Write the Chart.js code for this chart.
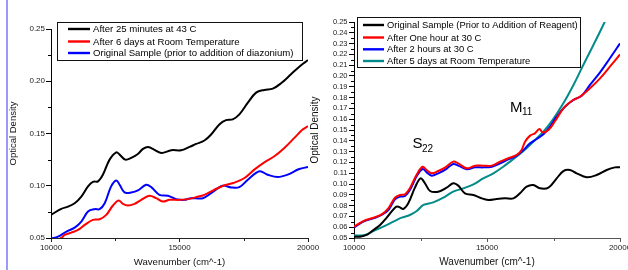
<!DOCTYPE html>
<html><head><meta charset="utf-8">
<script src="https://cdn.jsdelivr.net/npm/chart.js@4"></script>
<style>
html,body{margin:0;padding:0;background:#fff;overflow:hidden;}
#wrap{position:relative;width:628px;height:270px;overflow:hidden;background:#fff;}
#wrap canvas{position:absolute;left:0;top:0;}
#edge{position:absolute;left:6px;top:0;width:2px;height:270px;background:#9a9afc;}
</style></head><body>
<div id="wrap"><div id="edge"></div>
<canvas id="c1" width="660" height="270"></canvas>
<canvas id="c2" width="660" height="270"></canvas>
</div>
<script>
// ---------- LEFT CHART DATA ----------
const leftLabels = ['After 25 minutes at 43 C','After 6 days at Room Temperature','Original Sample (prior to addition of diazonium)'];
const leftBlackX = [10000,10400,10660,10920,11180,11440,11630,11830,12020,12280,12540,12670,12890,13120,13380,13580,13770,13960,14290,14680,15060,15390,15650,15970,16230,16550,16810,17070,17330,17660,17980,18300,18630,18950,19340,19730,20000];
const leftBlackY = [0.0721,0.0779,0.0800,0.0833,0.0897,0.0994,0.1038,0.1042,0.1106,0.1250,0.1320,0.1298,0.1250,0.1266,0.1304,0.1353,0.1372,0.1353,0.1314,0.1340,0.1340,0.1372,0.1400,0.1433,0.1490,0.1587,0.1628,0.1635,0.1683,0.1795,0.1891,0.1917,0.1929,0.1980,0.2067,0.2154,0.2202];
const leftRedX = [10000,10400,10530,10790,11050,11310,11630,11890,12150,12410,12630,12800,12990,13250,13510,13830,14090,14350,14610,15000,15320,15650,15970,16360,16750,17140,17530,17910,18300,18690,19080,19470,19790,20000];
const leftRedY = [0.0470,0.0500,0.0529,0.0551,0.0577,0.0625,0.0673,0.0679,0.0721,0.0811,0.0859,0.0827,0.0811,0.0827,0.0865,0.0904,0.0881,0.0849,0.0865,0.0865,0.0872,0.0891,0.0913,0.0962,0.1005,0.1030,0.1074,0.1154,0.1224,0.1282,0.1362,0.1458,0.1538,0.1570];
const leftBlueX = [10000,10270,10600,10920,11180,11440,11700,11890,12090,12340,12540,12670,12860,13120,13380,13700,13900,14220,14550,14870,15190,15450,15910,16230,16680,17010,17330,17660,18110,18430,18820,19210,19660,20000];
const leftBlueY = [0.0495,0.0513,0.0561,0.0599,0.0657,0.0753,0.0776,0.0776,0.0833,0.0994,0.1051,0.1010,0.0936,0.0936,0.0955,0.1010,0.0987,0.0913,0.0904,0.0872,0.0865,0.0881,0.0881,0.0929,0.1000,0.0984,0.0987,0.1058,0.1138,0.1106,0.1083,0.1106,0.1160,0.1179];
const leftXTicks = [10000,15000,20000];
const leftXMinor = [12500,17500];
const leftYTicks = [0.05,0.10,0.15,0.20,0.25];
const leftYMinor = [0.075,0.125,0.175,0.225];

// ---------- RIGHT CHART DATA ----------
const rightLabels = ['Original Sample (Prior to Addition of Reagent)','After One hour at 30 C','After 2 hours at 30 C','After 5 days at Room Temperature'];
const rightBlackX = [10000,10225,10475,10730,10980,11230,11540,11670,11855,12040,12290,12500,12670,12860,13170,13480,13730,13920,14170,14490,14740,15050,15360,15680,15990,16240,16490,16740,16990,17310,17620,17870,18120,18370,18750,19120,19500,19810,20000];
const rightBlackY = [0.0512,0.0512,0.0528,0.0574,0.0620,0.0688,0.0781,0.0790,0.0769,0.0821,0.0966,0.1052,0.1006,0.0935,0.0929,0.0966,0.1006,0.0985,0.0914,0.0898,0.0873,0.0852,0.0861,0.0867,0.0867,0.0914,0.0975,0.0991,0.0960,0.0966,0.1052,0.1120,0.1130,0.1099,0.1062,0.1083,0.1130,0.1154,0.1154];
const rightRedX = [10000,10350,10730,11040,11290,11540,11730,11920,12100,12360,12580,12730,12920,13170,13420,13730,13920,14240,14550,14860,15180,15490,15800,16120,16300,16430,16620,16800,16970,17090,17310,17560,17870,18180,18500,18870,19250,19620,20000];
const rightRedY = [0.0605,0.0657,0.0688,0.0719,0.0775,0.0873,0.0898,0.0904,0.0960,0.1089,0.1160,0.1130,0.1099,0.1120,0.1151,0.1207,0.1191,0.1145,0.1170,0.1170,0.1170,0.1207,0.1238,0.1269,0.1315,0.1392,0.1448,0.1469,0.1509,0.1478,0.1500,0.1583,0.1700,0.1769,0.1809,0.1886,0.1978,0.2086,0.2200];
const rightBlueX = [10000,10350,10730,11040,11290,11540,11730,11920,12100,12360,12580,12730,12920,13170,13420,13730,13920,14240,14550,14860,15180,15490,15800,16120,16370,16620,16870,17120,17370,17620,17930,18250,18560,18870,19250,19620,20000];
const rightBlueY = [0.0599,0.0651,0.0682,0.0713,0.0759,0.0858,0.0883,0.0889,0.0944,0.1074,0.1139,0.1108,0.1077,0.1099,0.1130,0.1185,0.1170,0.1136,0.1154,0.1154,0.1160,0.1191,0.1228,0.1262,0.1315,0.1377,0.1417,0.1460,0.1531,0.1623,0.1716,0.1778,0.1818,0.1917,0.2034,0.2164,0.2302];
const rightTealX = [10000,10410,10730,11100,11480,11790,12100,12360,12610,12980,13360,13730,14110,14490,14860,15240,15610,15990,16370,16740,17120,17490,17870,18250,18620,19000,19370,19700,20000];
const rightTealY = [0.0522,0.0528,0.0565,0.0605,0.0651,0.0688,0.0713,0.0750,0.0806,0.0830,0.0873,0.0929,0.0960,0.0997,0.1052,0.1099,0.1160,0.1231,0.1306,0.1392,0.1485,0.1602,0.1747,0.1917,0.2102,0.2287,0.2472,0.2650,0.2820];
const rightXTicks = [10000,15000,20000];
const rightXMinor = [12500,17500];
const rightYTicks = [0.05,0.06,0.07,0.08,0.09,0.10,0.11,0.12,0.13,0.14,0.15,0.16,0.17,0.18,0.19,0.20,0.21,0.22,0.23,0.24,0.25];
const rightYMinor = [0.055,0.065,0.075,0.085,0.095,0.105,0.115,0.125,0.135,0.145,0.155,0.165,0.175,0.185,0.195,0.205,0.215,0.225,0.235,0.245];
const peakLabels = [{main:'S', sub:'22', wn:12199, od:0.1333}, {main:'M', sub:'11', wn:15865, od:0.1667}];

const FONT = "'Liberation Sans', Arial, sans-serif";
Chart.defaults.font.family = FONT;

function zip(xs, ys){ return xs.map((x,i)=>({x:x, y:ys[i]})); }
function ds(label, xs, ys, color){
  return {label:label, data:zip(xs,ys), borderColor:color, backgroundColor:color, borderWidth:2,
    pointRadius:0, tension:0.35, fill:false};
}

const extras = {
  id:'extras',
  afterDraw(chart, args, o){
    const ctx = chart.ctx, xs = chart.scales.x, ys = chart.scales.y;
    ctx.save();
    // minor ticks
    ctx.lineWidth = 1;
    ctx.strokeStyle = o.yTickColor;
    o.minorY.forEach(v=>{
      const y = Math.round(ys.getPixelForValue(v)) + 0.5;
      ctx.beginPath(); ctx.moveTo(xs.left - o.minorLen, y); ctx.lineTo(xs.left, y); ctx.stroke();
    });
    ctx.strokeStyle = o.xTickColor;
    o.minorX.forEach(v=>{
      const x = Math.round(xs.getPixelForValue(v)) + 0.5;
      ctx.beginPath(); ctx.moveTo(x, ys.bottom); ctx.lineTo(x, ys.bottom + o.minorLenX); ctx.stroke();
    });
    // legend box
    const b = o.box;
    ctx.fillStyle = '#fff';
    ctx.fillRect(b[0], b[1], b[2]-b[0], b[3]-b[1]);
    ctx.strokeStyle = '#111'; ctx.lineWidth = 1;
    ctx.strokeRect(b[0]+0.5, b[1]+0.5, b[2]-b[0], b[3]-b[1]);
    ctx.font = o.font; ctx.textBaseline = 'middle'; ctx.textAlign = 'left';
    chart.data.datasets.forEach((d,i)=>{
      const y = o.rows[i];
      ctx.strokeStyle = d.borderColor; ctx.lineWidth = 2.4;
      ctx.beginPath(); ctx.moveTo(o.lineX[0], y); ctx.lineTo(o.lineX[1], y); ctx.stroke();
      ctx.fillStyle = '#000';
      ctx.fillText(d.label, o.textX, y + 0.5);
    });
    // peak labels
    (o.notes || []).forEach(n=>{
      const x = xs.getPixelForValue(n.wn), y = ys.getPixelForValue(n.od);
      ctx.fillStyle = '#000'; ctx.textBaseline = 'alphabetic';
      ctx.font = '15px ' + FONT;
      ctx.fillText(n.main, x, y);
      const w = ctx.measureText(n.main).width;
      ctx.font = '10px ' + FONT;
      ctx.fillText(n.sub, x + w - 0.5, y + 3.5);
    });
    ctx.restore();
  }
};

function makeOptions(cfg){
  return {
    responsive:false, animation:false, devicePixelRatio:1,
    layout:{padding:cfg.padding},
    plugins:{legend:{display:false}, tooltip:{enabled:false}, extras:cfg.extras},
    scales:{
      x:{type:'linear', min:10000, max:20000,
        afterBuildTicks:s=>{ s.ticks = cfg.xTicks.map(v=>({value:v})); },
        afterFit:s=>{ s.height = 32; },
        ticks:{callback:v=>String(v), font:{size:8}, color:'#222', padding:1, maxRotation:0, autoSkip:false},
        grid:{drawOnChartArea:false, drawTicks:true, tickLength:4, tickColor:cfg.xColor},
        border:{display:true, color:cfg.xColor, width:1},
        title:{display:true, text:'Wavenumber (cm^-1)', color:'#111', font:{size:cfg.xTitleSize}, padding:{top:0,bottom:cfg.xTitlePad}}
      },
      y:{type:'linear', min:0.05, max:0.25,
        afterBuildTicks:s=>{ s.ticks = cfg.yTicks.map(v=>({value:v})); },
        afterFit:s=>{ s.width = cfg.yWidth; },
        ticks:{callback:v=>Number(v).toFixed(2), font:{size:cfg.yTickSize}, color:'#222', padding:cfg.yTickPad, autoSkip:false},
        grid:{drawOnChartArea:false, drawTicks:true, tickLength:5, tickColor:'#000'},
        border:{display:true, color:'#000', width:1},
        title:{display:true, text:'Optical Density', color:'#111', font:{size:cfg.yTitleSize}, padding:{top:cfg.yTitlePad,bottom:0}}
      }
    }
  };
}

new Chart(document.getElementById('c1'), {
  type:'line',
  data:{datasets:[
    ds(leftLabels[0], leftBlackX, leftBlackY, '#000000'),
    ds(leftLabels[1], leftRedX, leftRedY, '#ff0000'),
    ds(leftLabels[2], leftBlueX, leftBlueY, '#0000ff')
  ]},
  options:makeOptions({
    padding:{left:0, right:352, top:29, bottom:0},
    xTicks:leftXTicks, yTicks:leftYTicks, xColor:'#222',
    yWidth:51, yTickSize:8, yTickPad:1, yTitleSize:9.5, yTitlePad:7.5,
    xTitleSize:9.6, xTitlePad:2,
    extras:{minorX:leftXMinor, minorY:leftYMinor, minorLen:3, minorLenX:3, yTickColor:'#000', xTickColor:'#222',
      box:[57,22,302,60], rows:[29,41.5,53], lineX:[68,90], textX:93, font:'9.6px ' + FONT}
  }),
  plugins:[extras]
});

new Chart(document.getElementById('c2'), {
  type:'line',
  data:{datasets:[
    ds(rightLabels[0], rightBlackX, rightBlackY, '#000000'),
    ds(rightLabels[1], rightRedX, rightRedY, '#ff0000'),
    ds(rightLabels[2], rightBlueX, rightBlueY, '#0000ff'),
    ds(rightLabels[3], rightTealX, rightTealY, '#058a8a')
  ]},
  options:makeOptions({
    padding:{left:308, right:40, top:22, bottom:0},
    xTicks:rightXTicks, yTicks:rightYTicks, xColor:'#555',
    yWidth:46, yTickSize:7.5, yTickPad:1.5, yTitleSize:10, yTitlePad:1,
    xTitleSize:10, xTitlePad:1.5,
    extras:{minorX:rightXMinor, minorY:rightYMinor, minorLen:3, minorLenX:3, yTickColor:'#000', xTickColor:'#555',
      box:[357,17,580,67], rows:[25,37.5,49.3,61], lineX:[363,384], textX:387, font:'9.4px ' + FONT,
      notes:peakLabels}
  }),
  plugins:[extras]
});
</script>
</body></html>
